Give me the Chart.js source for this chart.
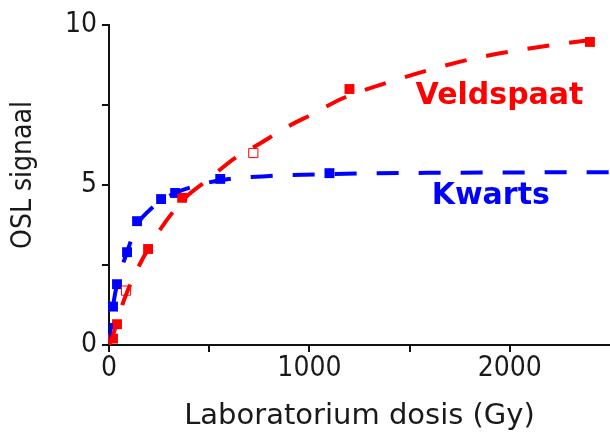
<!DOCTYPE html>
<html>
<head>
<meta charset="utf-8">
<script src="https://cdn.jsdelivr.net/npm/chart.js@4.4.1/dist/chart.umd.min.js"></script>
<style>
  html, body { margin: 0; padding: 0; background: #fff; }
</style>
</head>
<body>
<canvas id="osl-chart" width="610" height="436"></canvas>
<script>
// measured points (dose in Gy, OSL signal)
const veldspaatDose   = [20, 40, 195, 365, 1200, 2400];
const veldspaatSignal = [0.2, 0.65, 3.0, 4.6, 8.0, 9.47];
const veldspaatOpenDose   = [85, 720];
const veldspaatOpenSignal = [1.7, 6.0];

const kwartsDose   = [20, 40, 90, 140, 260, 330, 555, 1100];
const kwartsSignal = [1.2, 1.9, 2.9, 3.87, 4.56, 4.75, 5.19, 5.37];

// dashed fit curves
const veldspaatFitDose   = [0, 20, 45, 90, 195, 365, 500, 630, 740, 900, 1010, 1170, 1390, 1600, 1810, 2030, 2240, 2500];
const veldspaatFitSignal = [0, 0.3, 0.85, 1.65, 3.0, 4.5, 5.2, 5.85, 6.25, 6.85, 7.2, 7.72, 8.2, 8.6, 8.94, 9.2, 9.4, 9.6];
const kwartsFitDose   = [0, 20, 40, 90, 140, 200, 260, 330, 450, 555, 800, 1100, 1600, 2500];
const kwartsFitSignal = [0, 1.2, 1.9, 2.9, 3.75, 4.2, 4.5, 4.75, 5.0, 5.15, 5.28, 5.34, 5.38, 5.4];

const xTicks = [0, 500, 1000, 1500, 2000];
const yTicks = [0, 2.5, 5, 7.5, 10];

const RED = 'rgb(255, 0, 0)';
const BLUE = 'rgb(0, 0, 255)';
const INK = '#1a1a1a';

function toPoints(xs, ys) {
    return xs.map((x, i) => ({ x: x, y: ys[i] }));
}

// curve labels and the y axis title
const curveLabels = {
    id: 'curveLabels',
    afterDatasetsDraw(chart) {
        const ctx = chart.ctx;
        const x = chart.scales.x, y = chart.scales.y;
        ctx.save();
        ctx.font = 'bold 30px "DejaVu Sans"';
        ctx.textBaseline = 'alphabetic';
        ctx.fillStyle = RED;
        ctx.fillText('Veldspaat', x.getPixelForValue(1530), y.getPixelForValue(7.53));
        ctx.fillStyle = BLUE;
        ctx.fillText('Kwarts', x.getPixelForValue(1610), y.getPixelForValue(4.4));

        ctx.translate(24, 175);
        ctx.rotate(-Math.PI / 2);
        ctx.font = '28px "DejaVu Sans Condensed", "DejaVu Sans"';
        ctx.fillStyle = INK;
        ctx.textAlign = 'center';
        ctx.textBaseline = 'middle';
        ctx.fillText('OSL signaal', 0, 0);
        ctx.restore();
    }
};

const tickFont = { family: '"DejaVu Sans Condensed", "DejaVu Sans"', size: 28 };

new Chart(document.getElementById('osl-chart').getContext('2d'), {
    type: 'scatter',
    data: {
        datasets: [
            {
                label: 'Veldspaat fit',
                data: toPoints(veldspaatFitDose, veldspaatFitSignal),
                showLine: true,
                borderColor: RED,
                borderWidth: 4,
                borderDash: [22, 20],
                pointRadius: 0,
                cubicInterpolationMode: 'monotone'
            },
            {
                label: 'Kwarts fit',
                data: toPoints(kwartsFitDose, kwartsFitSignal),
                showLine: true,
                borderColor: BLUE,
                borderWidth: 4,
                borderDash: [22, 20],
                pointRadius: 0,
                cubicInterpolationMode: 'monotone'
            },
            {
                label: 'Veldspaat',
                data: toPoints(veldspaatDose, veldspaatSignal),
                pointStyle: 'rect',
                pointRadius: 7,
                backgroundColor: RED,
                borderColor: RED,
                borderWidth: 0,
                clip: false
            },
            {
                label: 'Veldspaat (open)',
                data: toPoints(veldspaatOpenDose, veldspaatOpenSignal),
                pointStyle: 'rect',
                pointRadius: 6.5,
                backgroundColor: '#fff',
                borderColor: RED,
                borderWidth: 1,
                clip: false
            },
            {
                label: 'Kwarts',
                data: toPoints(kwartsDose, kwartsSignal),
                pointStyle: 'rect',
                pointRadius: 7,
                backgroundColor: BLUE,
                borderColor: BLUE,
                borderWidth: 0,
                clip: false
            }
        ]
    },
    options: {
        responsive: false,
        animation: false,
        layout: { autoPadding: false, padding: { top: 25, right: 0, left: 0, bottom: 0 } },
        plugins: {
            legend: { display: false },
            tooltip: { enabled: false }
        },
        scales: {
            x: {
                type: 'linear',
                min: 0,
                max: 2500,
                afterFit: s => { s.height = 91; s.paddingRight = 0; s.paddingLeft = 0; },
                afterBuildTicks: s => { s.ticks = xTicks.map(v => ({ value: v })); },
                border: { display: true, color: '#111', width: 2 },
                grid: { drawOnChartArea: false, drawTicks: true, tickLength: 7, color: '#111', lineWidth: 2 },
                ticks: {
                    color: INK,
                    font: tickFont,
                    padding: 0,
                    maxRotation: 0,
                    callback: v => (v % 1000 === 0 ? String(v) : '')
                },
                title: {
                    display: true,
                    text: 'Laboratorium dosis (Gy)',
                    color: INK,
                    font: { family: '"DejaVu Sans"', size: 29 },
                    padding: { top: 0, bottom: 2 }
                }
            },
            y: {
                type: 'linear',
                min: 0,
                max: 10,
                afterFit: s => { s.width = 109; s.paddingTop = 0; s.paddingBottom = 0; },
                afterBuildTicks: s => { s.ticks = yTicks.map(v => ({ value: v })); },
                border: { display: true, color: '#111', width: 2 },
                grid: { drawOnChartArea: false, drawTicks: true, tickLength: 7, color: '#111', lineWidth: 2 },
                ticks: {
                    color: INK,
                    font: tickFont,
                    padding: 5,
                    callback: v => (v % 5 === 0 ? String(v) : '')
                },
                title: { display: false }
            }
        }
    },
    plugins: [curveLabels]
});
</script>
</body>
</html>
